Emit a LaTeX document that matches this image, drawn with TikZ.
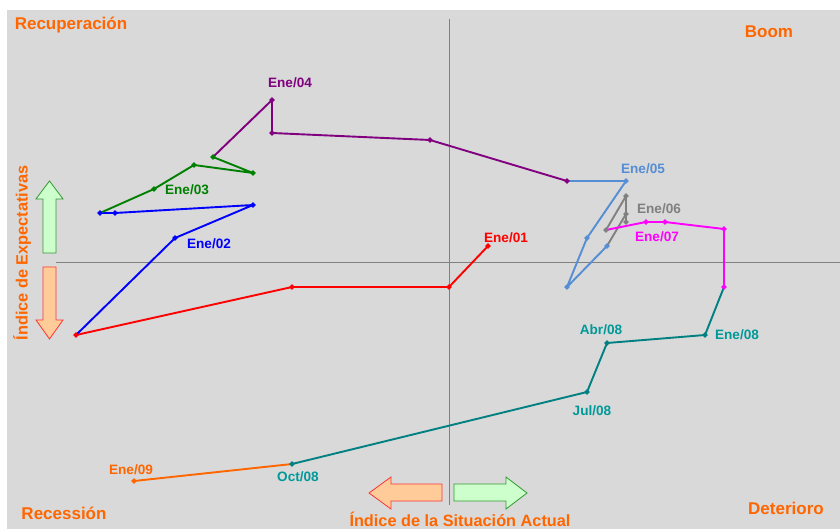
\documentclass[tikz,border=0pt]{standalone}
\usepackage{fontspec}
\setmainfont{Liberation Sans}
\usetikzlibrary{shapes.geometric}
\definecolor{bg}{HTML}{D9D9D9}
\definecolor{axisgray}{HTML}{808080}
\definecolor{cred}{HTML}{FF0000}
\definecolor{cblue}{HTML}{0000FF}
\definecolor{cgreen}{HTML}{008000}
\definecolor{cpurple}{HTML}{800080}
\definecolor{clblue}{HTML}{558ED5}
\definecolor{cgray}{HTML}{808080}
\definecolor{cpink}{HTML}{FF00FF}
\definecolor{cteal}{HTML}{008080}
\definecolor{ctealtxt}{HTML}{009999}
\definecolor{corange}{HTML}{FF6600}
\definecolor{upfill}{HTML}{CCFFCC}
\definecolor{upline}{HTML}{339933}
\definecolor{dnfill}{HTML}{FFCC99}
\definecolor{dnline}{HTML}{FF3333}
\begin{document}
\begin{tikzpicture}[x=1pt,y=-1pt,
  pt/.style={diamond,fill=#1,inner sep=0pt,minimum size=6pt},
  ser/.style={draw=#1,line width=1.9pt,line join=round},
  lbl/.style={font=\bfseries\fontsize{13.6}{15}\selectfont,text=#1,inner sep=0pt},
  axlab/.style={font=\bfseries\fontsize{16.3}{18}\selectfont,text=corange,inner sep=0pt},
  quad/.style={font=\bfseries\fontsize{17}{19}\selectfont,text=corange,inner sep=0pt},
  axis/.style={draw=axisgray,line width=0.9pt},
  uparr/.style={draw=upline,fill=upfill,line width=0.8pt},
  dnarr/.style={draw=dnline,fill=dnfill,line width=0.8pt}]
\useasboundingbox (0,0) rectangle (840,529);
\fill[white] (0,0) rectangle (840,529);
\fill[bg] (7,10) rectangle (840,529);
% axes
\coordinate (hl) at (56,262);
\coordinate (hr) at (840,262);
\coordinate (vt) at (449,19);
\coordinate (vb) at (449,505);
\draw[axis] (hl) -- (hr);
\draw[axis] (vt) -- (vb);
% direction arrows
\draw[uparr] (43,253) -- (43,199) -- (36,199) -- (49.5,181) -- (63,199) -- (56,199) -- (56,253) -- cycle;
\draw[dnarr] (43,267) -- (56,267) -- (56,320) -- (63,320) -- (49.5,339) -- (36,320) -- (43,320) -- cycle;
\draw[dnarr] (442,484) -- (391,484) -- (391,477) -- (369,493) -- (391,509) -- (391,501) -- (442,501) -- cycle;
\draw[uparr] (454,484) -- (506,484) -- (506,477) -- (527,493) -- (506,509) -- (506,501) -- (454,501) -- cycle;
% axis and quadrant labels
\node[axlab] (ylab) at (22,253) [rotate=90] {Índice de Expectativas};
\node[axlab] (xlab) at (460,519) {Índice de la Situación Actual};
\node[quad] (q1) at (71,25) {Recuperación};
\node[quad] (q2) at (769,32) {Boom};
\node[quad] (q3) at (64,513) {Recessión};
\node[quad] (q4) at (786,508) {Deterioro};
% points
\coordinate (r1) at (488,246);
\coordinate (r2) at (449,287);
\coordinate (r3) at (292,287);
\coordinate (r4) at (76,335);
\coordinate (b1) at (175,238);
\coordinate (b2) at (253,205);
\coordinate (b3) at (115,213);
\coordinate (b4) at (100,213);
\coordinate (g1) at (154,189);
\coordinate (g2) at (194,165);
\coordinate (g3) at (253,173);
\coordinate (g4) at (213,157);
\coordinate (p1) at (272,100);
\coordinate (p2) at (272,133);
\coordinate (p3) at (430,140);
\coordinate (p4) at (567,181);
\coordinate (l1) at (626,181);
\coordinate (l2) at (587,238);
\coordinate (l3) at (567,287);
\coordinate (l4) at (607,246);
\coordinate (y1) at (626,214);
\coordinate (y2) at (626,222);
\coordinate (y3) at (626,196);
\coordinate (y4) at (606,230);
\coordinate (m1) at (646,222);
\coordinate (m2) at (665,222);
\coordinate (m3) at (724,229);
\coordinate (m4) at (724,287);
\coordinate (t1) at (705,335);
\coordinate (t2) at (607,343);
\coordinate (t3) at (587,392);
\coordinate (t4) at (292,464);
\coordinate (o1) at (134,481);
% series lines
\draw[ser=cred] (r1) -- (r2) -- (r3) -- (r4);
\draw[ser=cblue] (r4) -- (b1) -- (b2) -- (b3) -- (b4);
\draw[ser=cgreen] (b4) -- (g1) -- (g2) -- (g3) -- (g4);
\draw[ser=cpurple] (g4) -- (p1) -- (p2) -- (p3) -- (p4);
\draw[ser=clblue] (p4) -- (l1) -- (l2) -- (l3) -- (l4);
\draw[ser=cgray] (l4) -- (y1) -- (y2) -- (y3) -- (y4);
\draw[ser=cpink] (y4) -- (m1) -- (m2) -- (m3) -- (m4);
\draw[ser=cteal] (m4) -- (t1) -- (t2) -- (t3) -- (t4);
\draw[ser=corange] (t4) -- (o1);
% markers
\foreach \c/\n in {cred/r1,cred/r2,cred/r3,cred/r4,
  cblue/b1,cblue/b2,cblue/b3,cblue/b4,
  cgreen/g1,cgreen/g2,cgreen/g3,cgreen/g4,
  cpurple/p1,cpurple/p2,cpurple/p3,cpurple/p4,
  clblue/l1,clblue/l2,clblue/l3,clblue/l4,
  cgray/y1,cgray/y2,cgray/y3,cgray/y4,
  cpink/m1,cpink/m2,cpink/m3,cpink/m4,
  cteal/t1,cteal/t2,cteal/t3,cteal/t4,
  corange/o1}
  \node[pt=\c] (mk-\n) at (\n) {};
% labels
\node[lbl=cred] (lab01) at (506,238) {Ene/01};
\node[lbl=cblue] (lab02) at (209,244) {Ene/02};
\node[lbl=cgreen] (lab03) at (187,190) {Ene/03};
\node[lbl=cpurple] (lab04) at (290,83) {Ene/04};
\node[lbl=clblue] (lab05) at (643,169) {Ene/05};
\node[lbl=cgray] (lab06) at (659,209) {Ene/06};
\node[lbl=cpink] (lab07) at (657,237) {Ene/07};
\node[lbl=ctealtxt] (lab08) at (737,335) {Ene/08};
\node[lbl=ctealtxt] (labA8) at (601,330) {Abr/08};
\node[lbl=ctealtxt] (labJ8) at (592,411) {Jul/08};
\node[lbl=ctealtxt] (labO8) at (298,477) {Oct/08};
\node[lbl=corange] (lab09) at (131,470) {Ene/09};
\end{tikzpicture}
\end{document}
